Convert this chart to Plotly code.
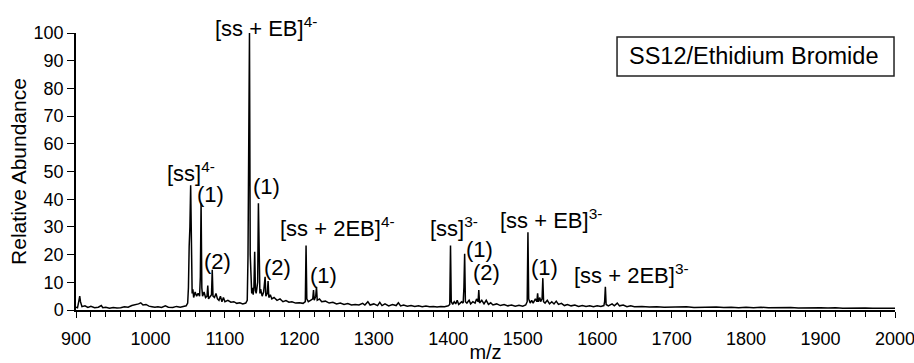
import plotly.graph_objects as go

# ---------------- data ----------------
mz = [900, 902, 904, 905, 906, 908, 912, 916, 920, 925, 930, 934, 936, 940, 945, 950, 955, 960, 965, 970,
      975, 980, 984, 987, 990, 994, 998, 1002, 1006, 1010, 1015, 1020, 1024, 1030, 1035, 1040, 1045, 1048,
      1050, 1051, 1052, 1053, 1054, 1055, 1056, 1057, 1058, 1060, 1062, 1064, 1066, 1067, 1068, 1069, 1070,
      1072, 1074, 1076, 1077, 1078, 1080, 1082, 1083, 1084, 1086, 1088, 1090, 1092, 1094, 1096, 1098, 1100,
      1104, 1108, 1112, 1116, 1120, 1124, 1128, 1130, 1131, 1132, 1133, 1134, 1135, 1136, 1137, 1138, 1139,
      1140, 1141, 1142, 1143, 1144, 1145, 1146, 1147, 1148, 1150, 1152, 1154, 1155, 1157, 1158, 1159, 1161,
      1163, 1166, 1170, 1174, 1178, 1182, 1186, 1190, 1195, 1200, 1205, 1208, 1209, 1210, 1212, 1215, 1218,
      1219, 1220, 1222, 1223, 1224, 1227, 1230, 1235, 1240, 1245, 1250, 1255, 1260, 1265, 1270, 1275, 1280,
      1285, 1288, 1292, 1295, 1300, 1305, 1308, 1311, 1315, 1320, 1325, 1330, 1333, 1336, 1340, 1345, 1350,
      1355, 1360, 1365, 1370, 1375, 1380, 1385, 1390, 1395, 1400, 1402, 1403, 1404, 1406, 1408, 1410, 1412,
      1414, 1416, 1418, 1420, 1421, 1422, 1423, 1425, 1428, 1430, 1433, 1436, 1438, 1440, 1441, 1442, 1445,
      1448, 1451, 1454, 1457, 1460, 1465, 1470, 1475, 1480, 1485, 1490, 1495, 1500, 1504, 1506, 1507, 1508,
      1510, 1512, 1514, 1517, 1519, 1520, 1521, 1523, 1524, 1526, 1527, 1528, 1530, 1533, 1536, 1539, 1542,
      1545, 1548, 1552, 1556, 1560, 1565, 1570, 1575, 1580, 1585, 1590, 1595, 1600, 1605, 1609, 1610, 1611,
      1612, 1615, 1620, 1623, 1627, 1630, 1635, 1640, 1645, 1650, 1660, 1670, 1680, 1690, 1700, 1710, 1720,
      1730, 1740, 1750, 1760, 1770, 1780, 1790, 1800, 1810, 1820, 1830, 1840, 1850, 1860, 1870, 1880, 1890,
      1900, 1910, 1920, 1930, 1940, 1950, 1960, 1970, 1980, 1990, 2000]
abundance = [1.0, 0.8, 3.5, 5.0, 3.0, 1.2, 1.5, 0.9, 1.3, 0.8, 1.0, 1.6, 0.8, 1.0, 0.6, 0.9, 0.7, 0.8, 1.2, 1.0,
             1.6, 1.8, 2.2, 2.6, 1.8, 2.0, 1.4, 1.2, 1.0, 1.2, 0.9, 1.5, 1.0, 0.9, 1.3, 1.0, 1.2, 1.5,
             2.5, 8, 23, 30, 45, 12, 6, 7.5, 4.5, 6.5, 5, 6, 5, 12, 38.5, 8, 5,
             6.5, 4.5, 5, 8.8, 4, 5, 5.5, 14.5, 5, 4.5, 6, 4, 3.5, 5, 3, 4.5, 3,
             3.5, 2.8, 3, 2.4, 2.6, 2.2, 2.5, 3.5, 19, 60, 100, 20, 8, 6, 8, 5.5, 8.5,
             21, 7, 6, 8, 10, 38.5, 9, 6, 7.5, 5, 6.5, 12, 5, 6, 10.5, 4.5, 5.5,
             4, 4.5, 3.5, 4, 3, 3.4, 2.8, 3, 2.5, 2.6, 2.4, 3, 23.3, 4, 3, 3.5, 4,
             7.2, 3.5, 5, 8.4, 3.5, 4, 3, 3.2, 2.5, 2.8, 2.2, 2.5, 2.0, 2.3, 1.8, 2.0, 1.8,
             2.4, 1.8, 3.0, 1.8, 2.2, 1.6, 2.8, 1.6, 2.2, 1.5, 2.0, 1.6, 2.6, 1.5, 1.8, 1.4, 1.6,
             1.3, 1.5, 1.2, 1.4, 1.2, 1.3, 1.1, 1.3, 1.2, 1.5, 2, 23.3, 3, 2, 3, 2.2, 3.5,
             2, 2.5, 3, 2.5, 8, 20.3, 3, 2.5, 3.5, 2.2, 3, 2.5, 4, 3, 7.2, 2.5, 3.5,
             2.2, 3.5, 2, 2.6, 1.8, 2.2, 1.6, 2.0, 1.5, 1.8, 1.4, 1.7, 1.4, 1.8, 3, 28.1, 4,
             2.5, 3.5, 2.5, 4, 3, 6, 3, 4.5, 3, 4, 11.5, 3, 2.5, 3.5, 2.2, 3, 2.2,
             3.2, 2.0, 2.4, 1.6, 2.0, 1.5, 1.8, 1.3, 1.6, 1.3, 1.5, 1.2, 1.5, 1.3, 1.6, 3, 8.4,
             2, 1.5, 2.2, 1.5, 2.5, 1.5, 1.8, 1.2, 1.5, 1.2, 1.3, 1.1, 1.2, 1.0, 1.1, 1.0, 1.2,
             0.9, 1.0, 0.9, 1.1, 0.9, 1.0, 0.8, 1.0, 0.8, 1.0, 0.8, 0.9, 0.8, 0.9, 0.7, 0.8, 0.7,
             0.8, 0.7, 0.8, 0.6, 0.7, 0.6, 0.7, 0.6, 0.7, 0.6, 0.6]

peak_labels = ["[ss]<sup>4-</sup>", "(1)", "(2)", "[ss + EB]<sup>4-</sup>", "(1)", "(2)",
               "[ss + 2EB]<sup>4-</sup>", "(1)", "[ss]<sup>3-</sup>", "(1)", "(2)",
               "[ss + EB]<sup>3-</sup>", "(1)", "[ss + 2EB]<sup>3-</sup>"]
label_mz = [1019.5, 1080, 1090.7, 1084, 1156.5, 1170, 1171.3, 1233, 1372.8, 1441.9, 1452, 1466.8, 1529.9, 1566]
label_y = [49.9, 41.6, 17.5, 100, 44.5, 15.4, 29.8, 12.3, 30, 21.7, 13.4, 32.9, 15.4, 13]
label_shift = [0, 0, 0, 6, 0, 0, 0, 0, 0, 0, 0, 0, 0, 0]
label_anchor = ["left", "center", "center", "left", "center", "center", "left", "center",
                "left", "center", "center", "left", "center", "left"]

x_ticks = [900, 1000, 1100, 1200, 1300, 1400, 1500, 1600, 1700, 1800, 1900, 2000]
y_ticks = [0, 10, 20, 30, 40, 50, 60, 70, 80, 90, 100]
legend_text = "SS12/Ethidium Bromide"

# ---------------- figure ----------------
FONT = "Arial, Liberation Sans, Helvetica, sans-serif"
INK = "#000000"

fig = go.Figure()
fig.add_trace(go.Scatter(x=mz, y=abundance, mode="lines",
                         line=dict(color=INK, width=1.5), hoverinfo="skip",
                         showlegend=False, cliponaxis=False))

for txt, xx, yy, sh, anc in zip(peak_labels, label_mz, label_y, label_shift, label_anchor):
    fig.add_annotation(x=xx, y=yy, xref="x", yref="y", text=txt, showarrow=False,
                       xanchor=anc, yanchor="middle", yshift=sh,
                       font=dict(family=FONT, size=22, color=INK))

fig.add_shape(type="rect", xref="paper", yref="paper",
              x0=0.6606, x1=0.9988, y0=0.8448, y1=0.9856,
              line=dict(color="#222222", width=1.5), fillcolor="white")
fig.add_annotation(x=0.8278, y=0.917, xref="paper", yref="paper", text=legend_text,
                   showarrow=False, xanchor="center", yanchor="middle",
                   font=dict(family=FONT, size=23.5, color=INK))

fig.update_layout(
    width=914, height=363,
    margin=dict(l=76, r=19, t=33, b=53),
    paper_bgcolor="white", plot_bgcolor="white",
    font=dict(family=FONT, color=INK),
)
fig.update_xaxes(range=[900, 2000], tickvals=x_ticks, ticks="outside", ticklen=6,
                 tickwidth=1.2, tickcolor=INK, showline=True, linecolor=INK, linewidth=1.5,
                 showgrid=False, zeroline=False, automargin=False,
                 ticklabeloverflow="allow", ticklabelstandoff=6,
                 minor=dict(dtick=20, tick0=900, ticks="outside", ticklen=5, tickcolor=INK, showgrid=False),
                 tickfont=dict(family=FONT, size=18, color=INK),
                 title=dict(text="m/z", font=dict(family=FONT, size=20, color=INK), standoff=0))
fig.update_yaxes(range=[0, 100], tickvals=y_ticks, ticks="outside", ticklen=7,
                 tickwidth=1.2, tickcolor=INK, showline=True, linecolor=INK, linewidth=1.5,
                 showgrid=False, zeroline=False, automargin=False,
                 tickfont=dict(family=FONT, size=18, color=INK),
                 title=dict(text="Relative Abundance", font=dict(family=FONT, size=21, color=INK), standoff=1))

fig.write_html("out.html", config={"displayModeBar": False},
               post_script="document.body.style.margin='0';document.body.style.overflow='hidden';")
